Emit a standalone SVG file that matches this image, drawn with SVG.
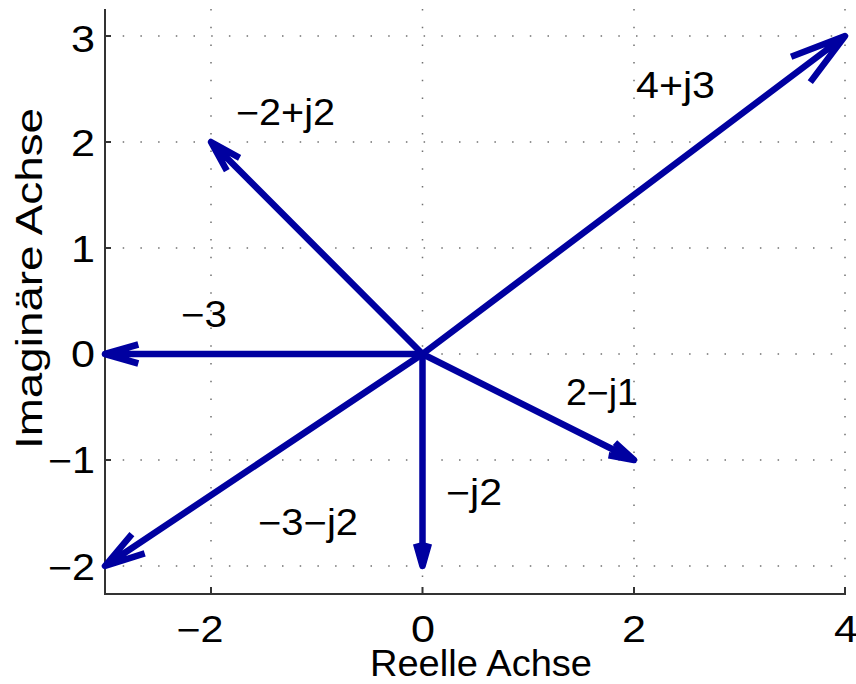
<svg xmlns="http://www.w3.org/2000/svg" width="856" height="684" viewBox="0 0 856 684">
<style>
text{font-family:"Liberation Sans",Arial,sans-serif;fill:#000;}
.tick{font-size:36px;}
.lbl{font-size:36px;}
.grid{stroke:#707070;stroke-width:1.5;stroke-dasharray:1.5 16.2;fill:none;}
.axis{stroke:#333;stroke-width:2;fill:none;}
.arrow{stroke:#0000a0;stroke-width:6.5;fill:none;stroke-linejoin:round;stroke-linecap:butt;}
</style>
<rect width="856" height="684" fill="#fff"/>
<g id="grid">
<path class="grid" d="M211 9V594M422.5 9V594M634 9V594M845 9V594"/>
<path class="grid" d="M105 36H845M105 142H845M105 248H845M105 354H845M105 460H845M105 566H845"/>
</g>
<g id="axes">
<path class="axis" d="M105 9V594H846"/>
<path class="axis" d="M105 36h6M105 142h6M105 248h6M105 354h6M105 460h6M105 566h6M211 594v-7M422.5 594v-7M634 594v-7M845 594v-7"/>
<g class="tick" text-anchor="end">
<text x="95" y="52" textLength="24" lengthAdjust="spacingAndGlyphs">3</text>
<text x="95" y="156" textLength="24" lengthAdjust="spacingAndGlyphs">2</text>
<text x="95" y="262" textLength="24" lengthAdjust="spacingAndGlyphs">1</text>
<text x="95" y="367" textLength="24" lengthAdjust="spacingAndGlyphs">0</text>
<text x="95" y="473" textLength="47" lengthAdjust="spacingAndGlyphs">−1</text>
<text x="95" y="580" textLength="47" lengthAdjust="spacingAndGlyphs">−2</text>
</g>
<g class="tick" text-anchor="middle">
<text x="200" y="642" textLength="47" lengthAdjust="spacingAndGlyphs">−2</text>
<text x="423" y="642" textLength="24" lengthAdjust="spacingAndGlyphs">0</text>
<text x="634" y="642" textLength="24" lengthAdjust="spacingAndGlyphs">2</text>
<text x="846" y="642" textLength="24" lengthAdjust="spacingAndGlyphs">4</text>
</g>
<text class="lbl" x="370" y="676" textLength="222" lengthAdjust="spacingAndGlyphs">Reelle Achse</text>
<text class="lbl" transform="translate(42,449) rotate(-90)" x="0" y="0" textLength="341" lengthAdjust="spacingAndGlyphs">Imaginäre Achse</text>
</g>
<g id="connectors">
<path id="v-4pj3" class="arrow" d="M422.5 354L845 36M810.3 82.1L845 36L791.1 56.7"/>
<path id="v-m2pj2" class="arrow" d="M422.5 354L211 142M239.6 157.8L211 142L226.8 170.6"/>
<path id="v-m3" class="arrow" d="M422.5 354L105 354M138.3 363.5L105 354L138.3 344.5"/>
<path id="v-2mj1" class="arrow" d="M422.5 354L634 460M608.6 455.2L634 460L615 442.6"/>
<path id="v-mj2" class="arrow" d="M422.5 354L422.5 566M416.1 543.7L422.5 566L428.9 543.7"/>
<path id="v-m3mj2" class="arrow" d="M422.5 354L105 566M131.9 534.1L105 566L144.7 553.3"/>
</g>
<g id="labels" class="lbl">
<text x="236" y="125" textLength="99" lengthAdjust="spacingAndGlyphs">−2+j2</text>
<text x="636" y="98" textLength="79" lengthAdjust="spacingAndGlyphs">4+j3</text>
<text x="181" y="327" textLength="46" lengthAdjust="spacingAndGlyphs">−3</text>
<text x="566" y="405" textLength="72" lengthAdjust="spacingAndGlyphs">2−j1</text>
<text x="446" y="505" textLength="56" lengthAdjust="spacingAndGlyphs">−j2</text>
<text x="258" y="535" textLength="100" lengthAdjust="spacingAndGlyphs">−3−j2</text>
</g>
</svg>
